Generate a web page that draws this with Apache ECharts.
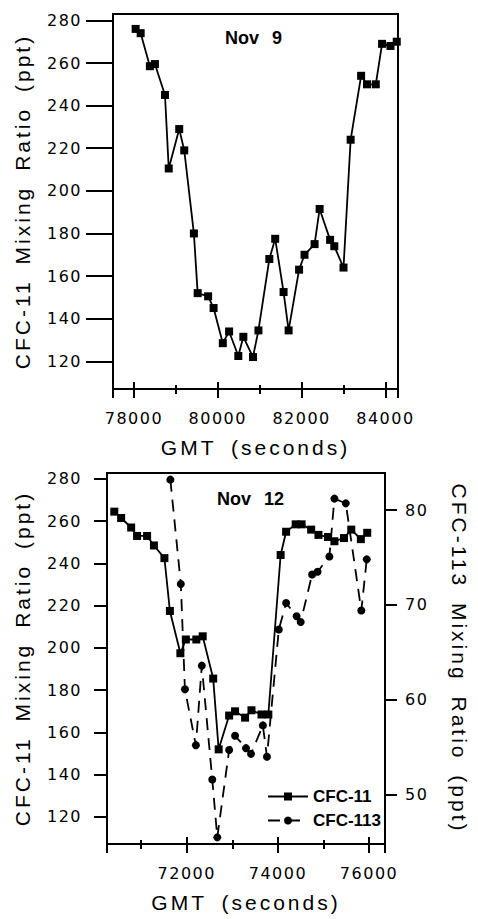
<!DOCTYPE html>
<html><head><meta charset="utf-8">
<script src="https://cdn.jsdelivr.net/npm/echarts@6/dist/echarts.min.js"></script>
<style>
html,body{margin:0;padding:0;background:#fff;}
#c{width:478px;height:919px;}
#c text[style*="16px"]{letter-spacing:1.5px;}
#c text[style*="21px"]{letter-spacing:3px;word-spacing:6px;}
#c text[style*="18px"]{word-spacing:8px;}
</style></head><body><div id="c"></div><script>
// Nov 9 : CFC-11
const nov9Time = [78040,78160,78380,78500,78740,78830,79080,79200,79430,79520,79770,79900,80120,80270,80490,80610,80840,80970,81230,81370,81570,81690,81940,82070,82310,82430,82680,82780,83000,83170,83420,83560,83770,83920,84120,84270];
const nov9Cfc11 = [276,274,258.5,259.5,245,210.5,229,219,180,152,150.5,145,128.5,134,122.5,131.5,122,134.5,168,177.5,152.5,134.5,163,170,175,191.5,177,174,164,224,254,250,250,269,268,270];
// Nov 12 : CFC-11
const nov12Time11 = [70410,70560,70780,70910,71130,71280,71510,71630,71860,71980,72210,72350,72580,72700,72930,73060,73280,73420,73640,73790,74060,74180,74390,74520,74730,74890,75100,75240,75450,75610,75820,75960];
const nov12Cfc11 = [264.5,261.5,257,253,253,248.5,242.5,217.5,197.5,204,204,205.5,185.5,152,168,170,167,170.5,168.5,168.5,244,255,258.5,258.5,256,253.5,252.5,250.5,252,256,251.5,254.5];
// Nov 12 : CFC-113
const nov12Time113 = [71640,71870,71960,72200,72330,72560,72670,72930,73060,73300,73410,73670,73760,74020,74180,74410,74500,74750,74870,75130,75240,75490,75830,75950];
const nov12Cfc113 = [83.2,72.2,61.1,55.2,63.6,51.6,45.5,54.7,56.2,54.9,54.3,57.3,54,67.4,70.2,68.8,68.2,73.2,73.5,75.1,81.2,80.7,69.4,74.8];
// axis texts
const seriesNames = ['CFC-11','CFC-113'];
const panelTitles = ['Nov 9','Nov 12'];
const yNameLeft = 'CFC-11 Mixing Ratio (ppt)';
const yNameRight = 'CFC-113 Mixing Ratio (ppt)';
const xName = 'GMT (seconds)';

const zip = (a, b) => a.map((v, i) => [v, b[i]]);
const BLACK = '#000';
const tickFont = {color: BLACK, fontFamily: 'DejaVu Sans', fontSize: 16};
const nameFont = {color: BLACK, fontFamily: 'Liberation Sans', fontSize: 21};
const fmt = v => String(v);

function xMain(grid, min, max) {
  return {type:'value', gridIndex:grid, min, max, splitNumber:3, position:'bottom',
    axisLine:{show:true, lineStyle:{color:BLACK, width:2}},
    axisTick:{show:true, inside:false, length:9, lineStyle:{color:BLACK, width:2}},
    minorTick:{show:true, splitNumber:2, length:5, lineStyle:{color:BLACK, width:2}},
    axisLabel:{show:true, margin:21, formatter:fmt, showMinLabel:false, showMaxLabel:false, ...tickFont},
    splitLine:{show:false}, minorSplitLine:{show:false},
    name:xName, nameLocation:'middle', nameGap:48, nameTextStyle:nameFont};
}
function xInner(grid, min, max) {
  return {type:'value', gridIndex:grid, min, max, splitNumber:3, position:'bottom',
    axisLine:{show:false},
    axisTick:{show:true, inside:true, length:7, lineStyle:{color:BLACK, width:2}},
    minorTick:{show:true, splitNumber:2, length:4, lineStyle:{color:BLACK, width:2}},
    axisLabel:{show:false}, splitLine:{show:false}, minorSplitLine:{show:false}};
}
function yAxis(grid, min, max, split, pos, tickLen, margin, name, nameGap, rot) {
  return {type:'value', gridIndex:grid, min, max, splitNumber:split, position:pos,
    axisLine:{show:true, lineStyle:{color:BLACK, width:2}},
    axisTick:{show:true, inside:false, length:tickLen, lineStyle:{color:BLACK, width:2}},
    axisLabel:{show:true, margin, formatter:fmt, showMinLabel:false, showMaxLabel:false, ...tickFont},
    splitLine:{show:false},
    name, nameLocation:'middle', nameGap, nameRotate:rot, nameTextStyle:nameFont};
}

const chart = echarts.init(document.getElementById('c'), null, {renderer:'svg'});
chart.setOption({
  animation:false,
  backgroundColor:'#fff',
  title:[
    {text:panelTitles[0], left:220, top:24, textStyle:{color:BLACK, fontFamily:'Liberation Sans', fontWeight:'bold', fontSize:18}},
    {text:panelTitles[1], left:212, top:485, textStyle:{color:BLACK, fontFamily:'Liberation Sans', fontWeight:'bold', fontSize:18}}
  ],
  legend:{show:true, orient:'vertical', left:262, top:783, itemWidth:40, itemHeight:10, itemGap:7,
    data:seriesNames, textStyle:{color:BLACK, fontFamily:'Liberation Sans', fontWeight:'bold', fontSize:17}},
  grid:[
    {left:113, top:14, width:285, height:375, show:true, borderColor:BLACK, borderWidth:2, containLabel:false},
    {left:107, top:473, width:290, height:371, show:true, borderColor:BLACK, borderWidth:2, containLabel:false}
  ],
  xAxis:[
    xMain(0, 77500, 84300), xInner(0, 77500, 84300),
    xMain(1, 70250, 76350), xInner(1, 70250, 76350)
  ],
  yAxis:[
    yAxis(0, 107, 283, 8, 'left', 27, 31, yNameLeft, 80, 90),
    yAxis(1, 107.2, 282.8, 8, 'left', 13, 25, yNameLeft, 74, 90),
    yAxis(1, 44.8, 83.9, 4, 'right', 12, 20, yNameRight, 64, -90)
  ],
  series:[
    {name:seriesNames[0], type:'line', xAxisIndex:0, yAxisIndex:0, data:zip(nov9Time, nov9Cfc11),
      symbol:'rect', symbolSize:8, itemStyle:{color:BLACK}, lineStyle:{color:BLACK, width:1.8}},
    {name:seriesNames[0], type:'line', xAxisIndex:2, yAxisIndex:1, data:zip(nov12Time11, nov12Cfc11),
      symbol:'rect', symbolSize:8, itemStyle:{color:BLACK}, lineStyle:{color:BLACK, width:1.8}},
    {name:seriesNames[1], type:'line', xAxisIndex:2, yAxisIndex:2, data:zip(nov12Time113, nov12Cfc113),
      symbol:'circle', symbolSize:8, itemStyle:{color:BLACK}, lineStyle:{color:BLACK, width:1.8, type:[12,8]}}
  ]
});
</script></body></html>
